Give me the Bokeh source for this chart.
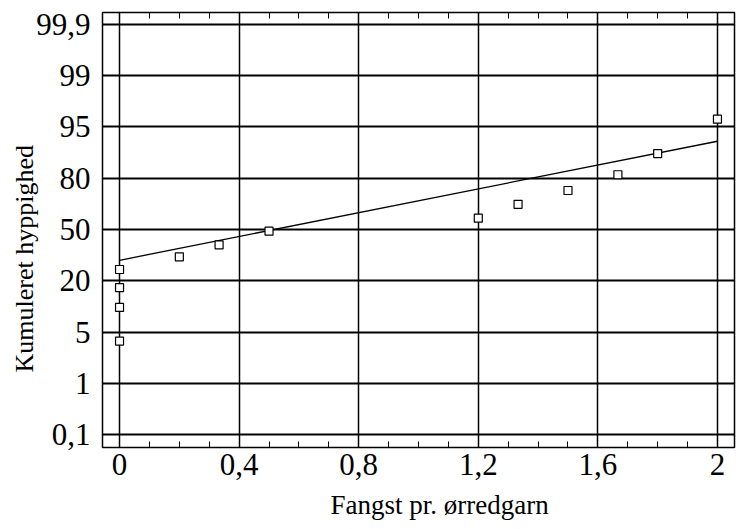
import numpy as np
from bokeh.plotting import figure
from bokeh.models import Range1d, FixedTicker, LinearAxis, Title
from bokeh.embed import file_html
from bokeh.resources import INLINE

# Y axis: probability-paper ticks (cumulative frequency, %), drawn equally spaced
y_tick_values = [0.1, 1, 5, 20, 50, 80, 95, 99, 99.9]
y_tick_labels = ["0,1", "1", "5", "20", "50", "80", "95", "99", "99,9"]
# X axis
x_tick_values = [0, 0.4, 0.8, 1.2, 1.6, 2.0]
x_tick_labels = ["0", "0,4", "0,8", "1,2", "1,6", "2"]

# Observations: catch per trout net vs cumulative frequency (%)
fangst = [0, 0, 0, 0, 0.2, 0.333, 0.5, 1.2, 1.333, 1.5, 1.667, 1.8, 2.0]
kumuleret = [4.3, 12.2, 18.0, 26.6, 34.0, 41.0, 49.0, 56.6, 64.7, 72.8, 81.0, 87.2, 95.6]

# Fitted line (end points)
linje_x = [0, 2]
linje_y = [32.0, 90.8]

positions = list(range(len(y_tick_values)))


def prob_scale(v):
    # the chart's probability axis: each labelled percentage is one equal step
    return np.interp(v, y_tick_values, positions)


FONT = "Liberation Serif"

p = figure(width=736, height=529, output_backend="svg", toolbar_location=None,
           x_range=Range1d(-0.057, 2.057), y_range=Range1d(-0.25, 8.23))
p.min_border_left = 102
p.min_border_right = 2
p.min_border_top = 12
p.min_border_bottom = 82
p.background_fill_color = "white"
p.border_fill_color = "white"
p.outline_line_color = "black"
p.outline_line_width = 1.5

# grids
p.xgrid.ticker = FixedTicker(ticks=x_tick_values)
p.ygrid.ticker = FixedTicker(ticks=positions)
p.xgrid.grid_line_color = "black"
p.xgrid.grid_line_width = 1.5
p.ygrid.grid_line_color = "black"
p.ygrid.grid_line_width = 2

# x axis
minor_x = [round(0.1 * i, 1) for i in range(0, 21)]
xa = p.xaxis[0]
xa.ticker = FixedTicker(ticks=x_tick_values, minor_ticks=minor_x)
xa.major_label_overrides = {v: l for v, l in zip(x_tick_values, x_tick_labels)}
xa.major_tick_out = 0
xa.major_tick_in = 6
xa.minor_tick_in = 6
xa.minor_tick_out = 0
xa.axis_line_color = None
xa.major_tick_line_color = "black"
xa.minor_tick_line_color = "black"
xa.major_label_text_font = FONT
xa.major_label_text_font_size = "31px"
xa.major_label_text_color = "black"
xa.major_label_standoff = 6

# top axis with inward ticks only (no labels)
top = LinearAxis(ticker=FixedTicker(ticks=x_tick_values, minor_ticks=minor_x),
                 major_label_overrides={v: "" for v in x_tick_values},
                 major_label_standoff=0, major_tick_out=0, major_tick_in=6,
                 minor_tick_in=6, minor_tick_out=0, axis_line_color=None,
                 major_tick_line_color="black", minor_tick_line_color="black")
p.add_layout(top, "above")

# y axis
ya = p.yaxis[0]
ya.ticker = FixedTicker(ticks=positions)
ya.major_label_overrides = {i: l for i, l in zip(positions, y_tick_labels)}
ya.major_tick_out = 0
ya.major_tick_in = 0
ya.minor_tick_line_color = None
ya.axis_line_color = None
ya.major_label_text_font = FONT
ya.major_label_text_font_size = "31px"
ya.major_label_text_color = "black"
ya.major_label_standoff = 12

# axis titles (placed like the original, off-centre)
xt = Title(text="Fangst pr. ørredgarn", align="left", offset=228, standoff=20,
           text_font=FONT, text_font_size="27px", text_font_style="normal",
           text_color="black")
p.add_layout(xt, "below")
yt = Title(text="Kumuleret hyppighed", align="left", offset=75, standoff=-11,
           text_font=FONT, text_font_size="26px", text_font_style="normal",
           text_color="black")
p.add_layout(yt, "left")

p.line(linje_x, prob_scale(linje_y), line_color="black", line_width=1.3)
p.scatter(fangst, prob_scale(kumuleret), marker="square", size=8,
          fill_color="white", line_color="black", line_width=1.2)

open("out.html", "w").write(file_html(p, INLINE))
